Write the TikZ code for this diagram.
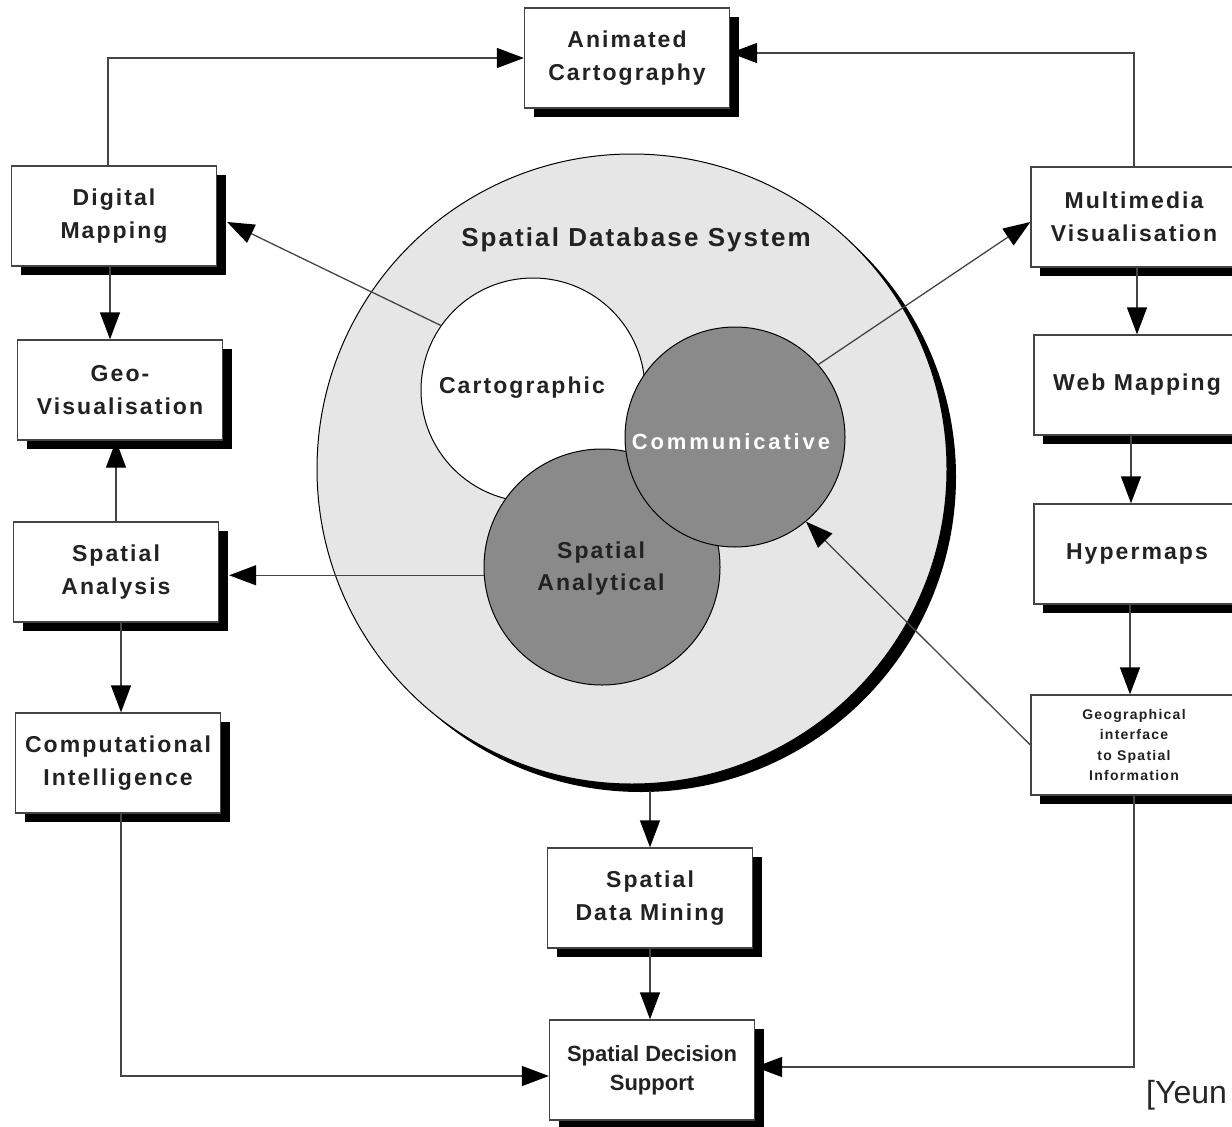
\documentclass[tikz,border=0pt]{standalone}
\usepackage{fontspec}
\setmainfont{Liberation Sans}
\newfontfamily\bxf[LetterSpace=9]{Liberation Sans}
\newfontfamily\ttlf[LetterSpace=8]{Liberation Sans}
\newfontfamily\cmf[LetterSpace=13]{Liberation Sans}
\usetikzlibrary{arrows.meta,shadows,calc}
\definecolor{txt}{HTML}{222222}
\definecolor{dbfill}{HTML}{E6E6E6}
\definecolor{darkc}{HTML}{8A8A8A}
\definecolor{lncol}{HTML}{444444}
\begin{document}
\begin{tikzpicture}[x=1pt,y=-1pt,
  bx/.style={draw=lncol, line width=1.3pt, fill=white, minimum width=205pt,
    minimum height=100pt, inner sep=0pt, align=center, text=txt,
    font=\bxf\bfseries\fontsize{23}{33}\selectfont,
    drop shadow={shadow xshift=9pt, shadow yshift=-9pt, fill=black, opacity=1}},
  arr/.style={draw=lncol, line width=1.3pt,
    -{Triangle[length=27pt,width=20pt,color=black,fill=black]}},
  lbl/.style={inner sep=0pt, align=center, text=txt,
    font=\bxf\bfseries\fontsize{23}{32}\selectfont},
  circ/.style={circle, draw=black, line width=1pt, inner sep=0pt}]
\useasboundingbox (0,0) rectangle (1232,1127);
\clip (0,0) rectangle (1232,1127);

% central circles
\node[circ, fill=dbfill, minimum size=630pt,
  drop shadow={shadow xshift=9pt, shadow yshift=-8pt, fill=black, opacity=1}] (db) at (632,469) {};
\node[circ, fill=white, minimum size=224pt] (cart) at (533,390) {};
\node[circ, fill=darkc, minimum size=236pt] (span) at (602,567) {};
\node[circ, fill=darkc, minimum size=220pt] (comm) at (735,437) {};

\node[lbl, font=\ttlf\bfseries\fontsize{26}{30}\selectfont] (tdb) at (636,240) {Spatial Database System};
\node[lbl] (tcart) at (522,388) {Cartographic};
\node[lbl, text=white, font=\cmf\bfseries\fontsize{22}{30}\selectfont] (tcomm) at (731,442) {Communicative};
\node[lbl] (tspan) at (601,569) {Spatial\\Analytical};

% boxes
\node[bx] (ac) at (627,58) {Animated\\Cartography};
\node[bx] (dm) at (114,216) {Digital\\Mapping};
\node[bx] (gv) at (120,390) {Geo-\\Visualisation};
\node[bx] (sa) at (116,572) {Spatial\\Analysis};
\node[bx] (ci) at (118,763) {Computational\\Intelligence};
\node[bx, minimum width=206pt] (mv) at (1134,217) {Multimedia\\Visualisation};
\node[bx, minimum width=206pt] (wm) at (1137,385) {Web Mapping};
\node[bx, minimum width=206pt] (hm) at (1137,554) {Hypermaps};
\node[bx, minimum width=206pt, font=\bxf\bfseries\fontsize{14}{20.3}\selectfont] (gi) at (1134,745)
  {Geographical\\interface\\to Spatial\\Information};
\node[bx] (sdm) at (650,898) {Spatial\\Data Mining};
\node[bx, font=\bfseries\fontsize{22}{29}\selectfont] (sds) at (652,1070) {Spatial Decision\\Support};

% connectors
\draw[arr] ([xshift=-6pt]dm.north) |- (ac.west);
\draw[arr] (mv.north) |- ([yshift=5pt]ac.east);
\draw[arr] ([xshift=-4pt]dm.south) -- ([xshift=-4pt]dm.south |- gv.north);
\draw[arr] (sa.north) -- (sa.north |- gv.south);
\draw[arr] ([xshift=5pt]sa.south) -- ([xshift=5pt]sa.south |- ci.north);
\draw[arr] ([xshift=3pt]ci.south) |- ([yshift=-6pt]sds.west);
\draw[arr] (gi.south) |- ([yshift=3pt]sds.east);
\draw[arr] (wm.north |- mv.south) -- (wm.north);
\draw[arr] ([xshift=-6pt]wm.south) -- ([xshift=-6pt]wm.south |- hm.north);
\draw[arr] ([xshift=-7pt]hm.south) -- ([xshift=-7pt]hm.south |- gi.north);
\draw[arr] (cart.145) -- ([xshift=10pt,yshift=-6pt]dm.east);
\draw[arr] (comm.41) -- ([yshift=-5pt]mv.west);
\draw[arr] (span.184) -- ($(span.184 -| sa.east)+(10,0)$);
\draw[arr] (gi.west) -- (comm.-50);
\draw[arr] ($(sdm.north |- db.south)+(0,6)$) -- (sdm.north);
\draw[arr] (sdm.south) -- (sdm.south |- sds.north);

\node[anchor=base west, inner sep=0pt, text=black!85, font=\fontsize{32}{38}\selectfont] (cite) at (1146,1103) {[Yeun};
\end{tikzpicture}
\end{document}
